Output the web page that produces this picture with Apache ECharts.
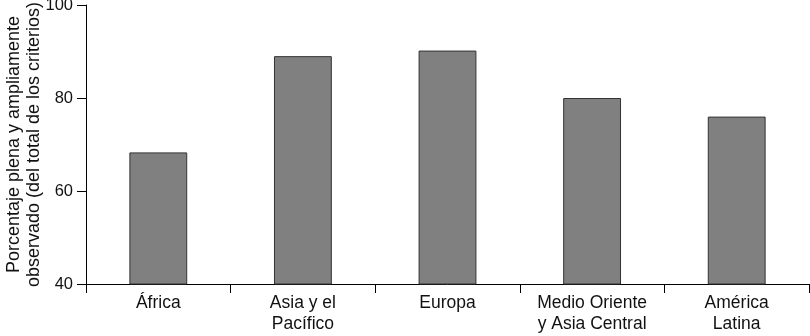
<!DOCTYPE html>
<html>
<head>
<meta charset="utf-8">
<script src="https://cdn.jsdelivr.net/npm/echarts@6/dist/echarts.min.js"></script>
<style>
  html, body { margin: 0; padding: 0; background: #fff; }
  #main { width: 810px; height: 336px; }
</style>
</head>
<body>
<div id="main"></div>
<script>
// datos
var categorias = ['África', 'Asia y el\nPacífico', 'Europa', 'Medio Oriente\ny Asia Central', 'América\nLatina'];
var valores = [68.3, 89.0, 90.2, 80.0, 76.0];
var tickY = [40, 60, 80, 100];

var myChart = echarts.init(document.getElementById('main'));
var fuente = 'Liberation Sans, Arial, sans-serif';

var option = {
    animation: false,
    grid: { left: 86, right: 1, top: 5, bottom: 52, containLabel: false, outerBoundsMode: 'none' },
    xAxis: {
        type: 'category',
        data: categorias,
        boundaryGap: true,
        axisLine: { lineStyle: { color: '#000', width: 1 } },
        axisTick: { show: true, length: 9, inside: false, lineStyle: { color: '#000' } },
        axisLabel: { color: '#111', fontSize: 17.5, fontFamily: fuente, lineHeight: 21, margin: 9, interval: 0 }
    },
    yAxis: {
        type: 'value',
        min: tickY[0],
        max: tickY[tickY.length - 1],
        interval: 20,
        name: 'Porcentaje plena y ampliamente\nobservado (del total de los criterios)',
        nameLocation: 'middle',
        nameGap: 42,
        nameMoveOverlap: false,
        nameTextStyle: { color: '#111', fontSize: 18, fontFamily: fuente, lineHeight: 20 },
        axisLine: { show: true, lineStyle: { color: '#000', width: 1 } },
        axisTick: { show: true, length: 9, lineStyle: { color: '#000' } },
        axisLabel: { color: '#111', fontSize: 16.5, fontFamily: fuente, margin: 13 },
        splitLine: { show: false }
    },
    series: [{
        type: 'bar',
        data: valores,
        barWidth: '40%',
        itemStyle: { color: '#808080', borderColor: '#333', borderWidth: 1 }
    }]
};

myChart.setOption(option);
</script>
</body>
</html>
